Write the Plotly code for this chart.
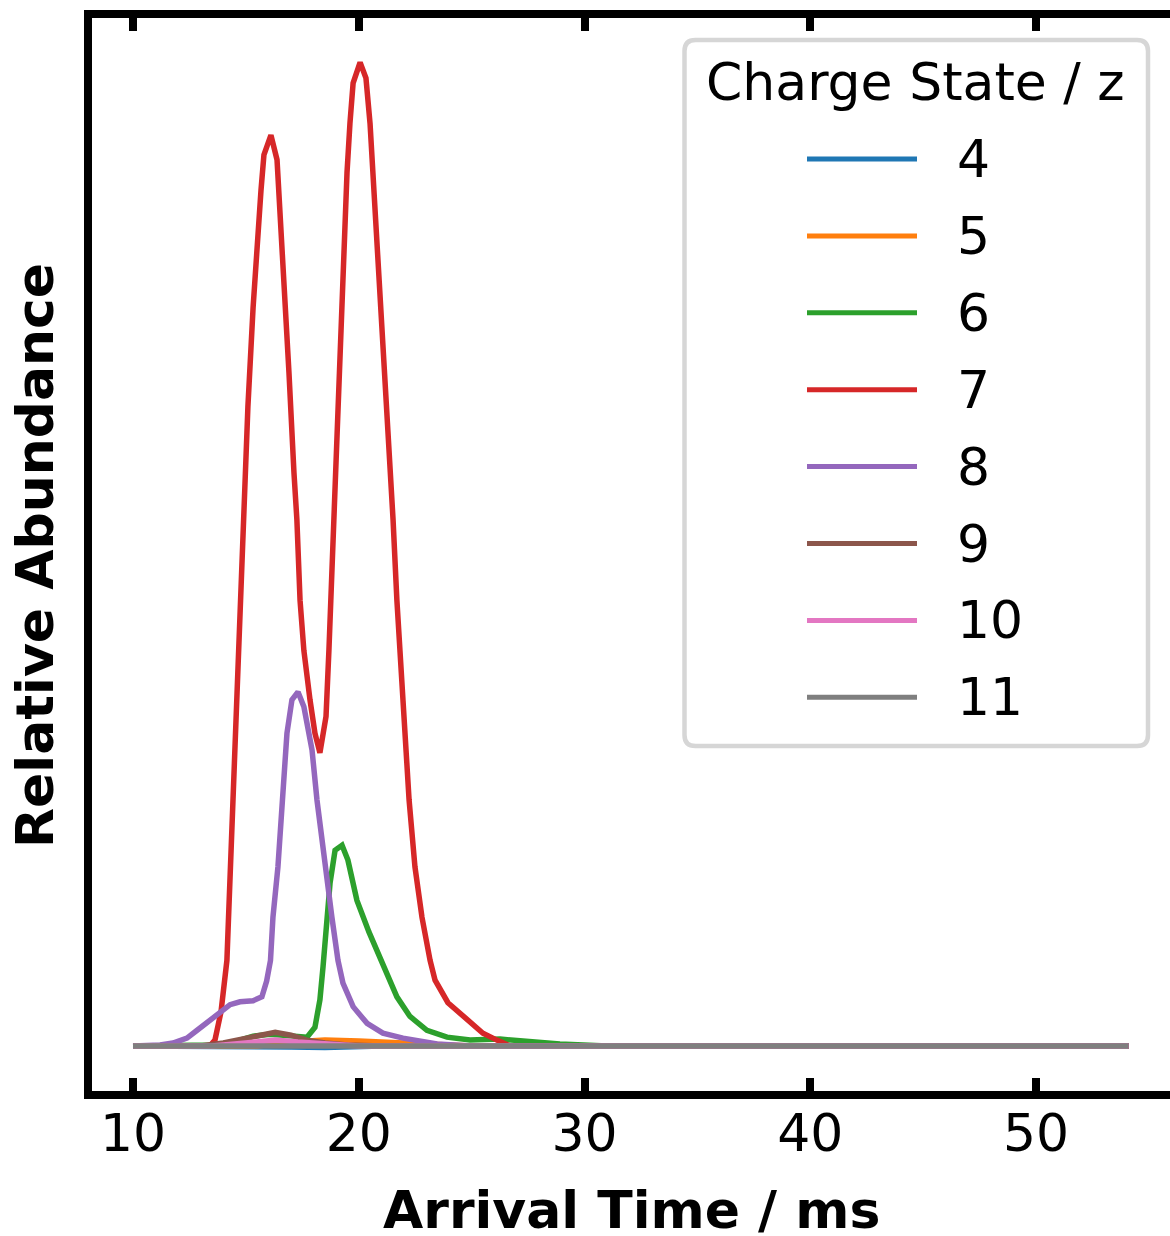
import plotly.graph_objects as go

# ---------------- data ----------------
charge_states = ["4", "5", "6", "7", "8", "9", "10", "11"]
line_colors = ["#1f77b4", "#ff7f0e", "#2ca02c", "#d62728",
               "#9467bd", "#8c564b", "#e377c2", "#7f7f7f"]

t_z4 = [10.0, 16.0, 17.0, 18.5, 19.5, 21.0, 54.1]
a_z4 = [0.0, 0.0, -0.001, -0.0015, -0.001, 0.0, 0.0]

t_z5 = [10.0, 13.0, 14.0, 15.5, 17.0, 18.5, 20.0, 22.0, 25.0, 54.1]
a_z5 = [0.0, 0.0, -0.001, 0.0, 0.004, 0.006, 0.005, 0.003, 0.0, 0.0]

t_z6 = [10.0, 12.5, 13.5, 14.30, 15.32, 16.07, 17.09, 17.71, 18.06, 18.28,
        18.42, 18.59, 18.73, 18.95, 19.26, 19.52, 19.92, 20.45, 21.0, 21.69,
        22.27, 23.02, 23.91, 24.93, 26.26, 27.59, 28.91, 31.0, 54.1]
a_z6 = [0.0, 0.0, 0.001, 0.003, 0.010, 0.012, 0.010, 0.009, 0.019, 0.047,
        0.081, 0.131, 0.166, 0.199, 0.204, 0.189, 0.148, 0.116, 0.086, 0.050,
        0.030, 0.016, 0.009, 0.006, 0.007, 0.004, 0.002, 0.0, 0.0]

t_z7 = [10.0, 13.4, 13.63, 13.9, 14.16, 14.43, 14.70, 14.96, 15.09, 15.32,
        15.49, 15.67, 15.80, 16.11, 16.38, 16.51, 16.69, 16.91, 17.13, 17.26,
        17.40, 17.57, 17.84, 18.06, 18.28, 18.55, 18.68, 18.81, 18.95, 19.08,
        19.30, 19.48, 19.61, 19.75, 20.06, 20.32, 20.50, 20.68, 20.85, 21.12,
        21.38, 21.52, 21.69, 21.96, 22.23, 22.49, 22.80, 23.16, 23.38, 23.95,
        24.80, 25.50, 26.12, 26.70, 54.1]
a_z7 = [0.0, 0.0, 0.006, 0.035, 0.087, 0.250, 0.403, 0.556, 0.650, 0.751,
        0.819, 0.870, 0.906, 0.926, 0.901, 0.853, 0.786, 0.684, 0.583, 0.535,
        0.453, 0.402, 0.352, 0.318, 0.298, 0.335, 0.403, 0.487, 0.555, 0.649,
        0.786, 0.888, 0.938, 0.979, 1.000, 0.984, 0.938, 0.870, 0.786, 0.684,
        0.583, 0.535, 0.453, 0.352, 0.250, 0.182, 0.131, 0.087, 0.067, 0.044,
        0.026, 0.013, 0.006, 0.0, 0.0]

t_z8 = [10.0, 11.2, 11.77, 12.08, 12.39, 12.84, 13.2, 13.72, 14.30, 14.74,
        15.32, 15.71, 15.92, 16.09, 16.20, 16.42, 16.60, 16.82, 17.04, 17.31,
        17.57, 17.93, 18.15, 18.50, 18.81, 19.08, 19.30, 19.75, 20.37, 21.07,
        21.96, 23.47, 25.0, 54.1]
a_z8 = [0.0, 0.001, 0.003, 0.006, 0.008, 0.016, 0.022, 0.031, 0.042, 0.045,
        0.046, 0.050, 0.066, 0.087, 0.131, 0.182, 0.250, 0.318, 0.352, 0.360,
        0.345, 0.301, 0.250, 0.182, 0.131, 0.087, 0.064, 0.040, 0.023, 0.013,
        0.008, 0.002, 0.0, 0.0]

t_z9 = [10.0, 13.0, 14.0, 14.8, 15.5, 16.3, 17.0, 17.7, 18.5, 19.5, 21.0, 54.1]
a_z9 = [0.0, 0.0, 0.003, 0.007, 0.011, 0.014, 0.011, 0.006, 0.003, 0.001, 0.0, 0.0]

t_z10 = [10.0, 13.5, 14.5, 15.5, 16.3, 17.3, 18.5, 20.0, 54.1]
a_z10 = [0.0, 0.0, 0.002, 0.005, 0.006, 0.004, 0.002, 0.0, 0.0]

t_z11 = [10.0, 54.1]
a_z11 = [0.0, 0.0]

series_t = [t_z4, t_z5, t_z6, t_z7, t_z8, t_z9, t_z10, t_z11]
series_a = [a_z4, a_z5, a_z6, a_z7, a_z8, a_z9, a_z10, a_z11]

x_ticks = [10, 20, 30, 40, 50]
x_title = "Arrival Time / ms"
y_title = "Relative Abundance"
legend_title = "Charge State / z"

# ---------------- layout geometry ----------------
W, H = 1170, 1236
L, R, T, B = 92, 0, 18, 145          # spines (8px) are drawn just outside
PW, PH = W - L - R, H - T - B
PX_PER_MS = 22.575
X10_PX = 133                          # pixel of the 10 ms tick
Y0_PX = 1046                          # pixel of zero abundance
PX_PER_UNIT = 983.6
FONT = "DejaVu Sans"
FS = 52

x_lo = 10 - (X10_PX - L) / PX_PER_MS
x_hi = x_lo + PW / PX_PER_MS
y_lo = -(H - B - Y0_PX) / PX_PER_UNIT
y_hi = (Y0_PX - T) / PX_PER_UNIT


def px(x):
    return (x - L) / PW


def py(y):
    return (H - B - y) / PH


fig = go.Figure()
for name, col, t, a in zip(charge_states, line_colors, series_t, series_a):
    fig.add_trace(go.Scatter(x=t, y=a, mode="lines", name=name,
                             line=dict(color=col, width=5.5),
                             showlegend=False))

# ---------------- manual legend ----------------
def rrect(x0, y0, x1, y1, r):
    rx, ry = r / PW, r / PH
    X0, X1 = px(x0), px(x1)
    Y0, Y1 = py(y1), py(y0)
    return (f"M{X0+rx},{Y0} L{X1-rx},{Y0} Q{X1},{Y0} {X1},{Y0+ry} "
            f"L{X1},{Y1-ry} Q{X1},{Y1} {X1-rx},{Y1} L{X0+rx},{Y1} "
            f"Q{X0},{Y1} {X0},{Y1-ry} L{X0},{Y0+ry} Q{X0},{Y0} {X0+rx},{Y0} Z")


shapes = [dict(type="path", xref="paper", yref="paper",
               path=rrect(684.5, 40, 1148, 746, 11),
               fillcolor="white", line=dict(color="#d6d6d6", width=4.5))]
annotations = [dict(x=px(915), y=py(82), xref="paper", yref="paper",
                    text=legend_title, showarrow=False,
                    xanchor="center", yanchor="middle",
                    font=dict(family=FONT, size=FS, color="black"))]

row0, row_step = 159, 76.9
for i, (name, col) in enumerate(zip(charge_states, line_colors)):
    yy = row0 + i * row_step
    shapes.append(dict(type="line", xref="paper", yref="paper",
                       x0=px(807), x1=px(917), y0=py(yy), y1=py(yy),
                       line=dict(color=col, width=5)))
    annotations.append(dict(x=px(955), y=py(yy), xref="paper", yref="paper",
                            text=name, showarrow=False,
                            xanchor="left", yanchor="middle",
                            font=dict(family=FONT, size=FS, color="black")))

# axis titles
annotations.append(dict(x=px(631), y=py(1210), xref="paper", yref="paper",
                        text=f"<b>{x_title}</b>", showarrow=False,
                        xanchor="center", yanchor="middle",
                        font=dict(family=FONT, size=FS, color="black")))
annotations.append(dict(x=px(35), y=py(556), xref="paper", yref="paper",
                        text=f"<b>{y_title}</b>", showarrow=False,
                        textangle=-90, xanchor="center", yanchor="middle",
                        font=dict(family=FONT, size=FS, color="black")))

fig.update_layout(
    width=W, height=H,
    margin=dict(l=L, r=R, t=T, b=B, pad=0),
    paper_bgcolor="white", plot_bgcolor="white",
    shapes=shapes, annotations=annotations,
    xaxis=dict(range=[x_lo, x_hi], tickvals=x_ticks,
               ticktext=[str(v) for v in x_ticks],
               ticks="inside", ticklen=13, tickwidth=8, tickcolor="black",
               ticklabelstandoff=-10,
               showline=True, linewidth=8, linecolor="black", mirror="ticks",
               showgrid=False, zeroline=False,
               tickfont=dict(family=FONT, size=FS, color="black")),
    yaxis=dict(range=[y_lo, y_hi], showticklabels=False, ticks="",
               showline=True, linewidth=8, linecolor="black", mirror=False,
               showgrid=False, zeroline=False),
)

fig.write_html("out.html")
